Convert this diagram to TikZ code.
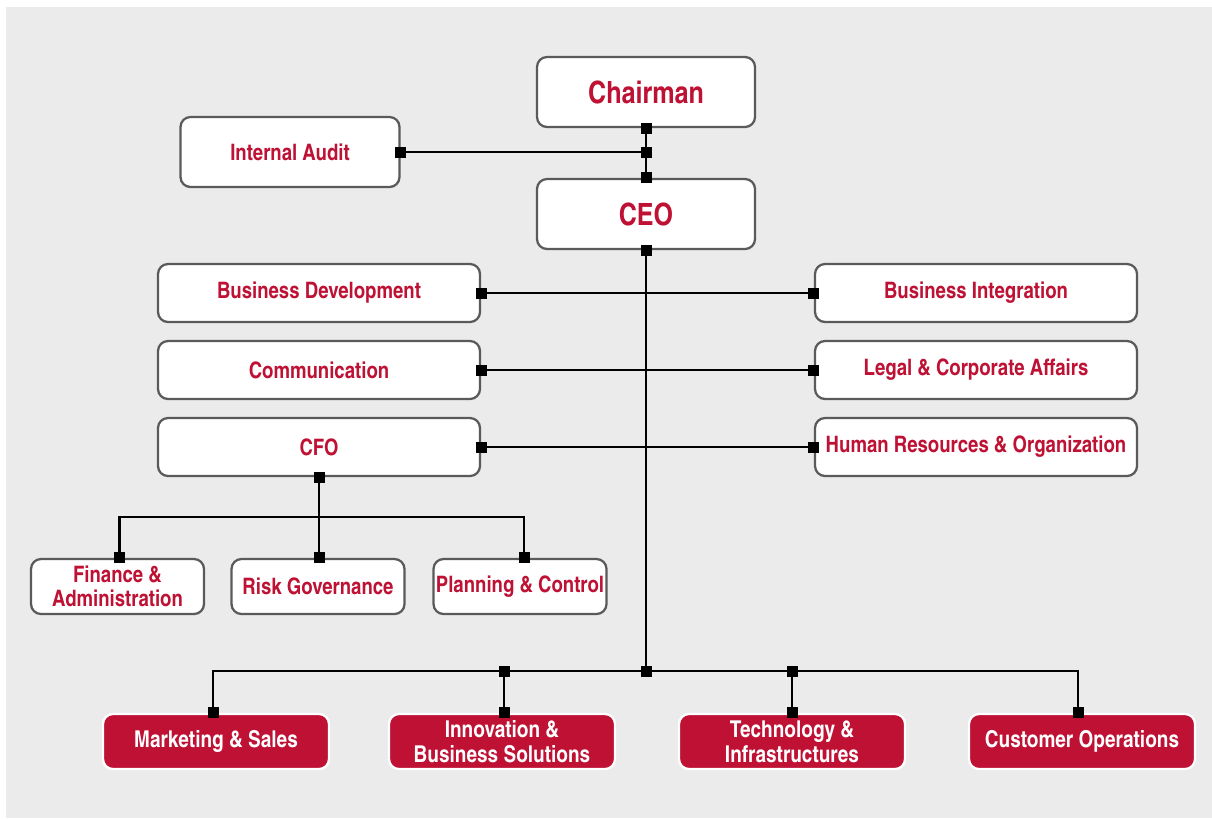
\documentclass[tikz,border=0pt]{standalone}
\usepackage{fontspec}
\setmainfont{texgyreheroscn}[Extension=.otf,UprightFont=*-regular,BoldFont=*-bold,ItalicFont=*-italic,BoldItalicFont=*-bolditalic]
\definecolor{brand}{HTML}{BE1134}
\definecolor{panel}{HTML}{EBEBEB}
\definecolor{frame}{HTML}{5A5A5A}
% square connection marker, 11 units wide, centred on a point
\newcommand\sqmark[1]{\fill[black] (#1) ++(-5.5,-5.5) rectangle ++(11,11);}
\begin{document}
\begin{tikzpicture}[x=0.75pt,y=-0.75pt,
  base/.style={rounded corners=7.5pt, line width=1.7pt, align=center, inner sep=0pt,
               font=\bfseries\fontsize{17}{18.5}\selectfont},
  wbox/.style={base, draw=frame, fill=white, text=brand},
  rbox/.style={base, draw=white, fill=brand, text=white,
               font=\bfseries\fontsize{17.4}{18.5}\selectfont},
  headbox/.style={wbox, minimum width=163.5pt, minimum height=52.5pt,
                  font=\bfseries\fontsize{23}{26}\selectfont},
  staffbox/.style={wbox, minimum width=241.5pt, minimum height=43.5pt},
  subbox/.style={wbox, minimum width=129.75pt, minimum height=41.25pt},
  unitbox/.style={rbox, minimum width=169.5pt, minimum height=41.25pt},
  link/.style={line width=2.1pt, draw=black},
]
\useasboundingbox (0,0) rectangle (1212,818);
\fill[panel] (6,7) rectangle (1212,818);

% top level
\node[headbox] (chair) at (646,92) {Chairman};
\node[headbox] (ceo) at (646,214) {CEO};
\node[wbox, minimum width=164.25pt, minimum height=52.5pt] (audit) at (290,152) {Internal Audit};

% staff functions
\node[staffbox] (bdev) at (319,293) {Business Development};
\node[staffbox] (comm) at (319,370) {Communication};
\node[staffbox] (cfo)  at (319,447) {CFO};
\node[staffbox] (bint) at (976,293) {Business Integration};
\node[staffbox] (legal) at (976,370) {Legal \& Corporate Affairs};
\node[staffbox] (hr)   at (976,447) {Human Resources \& Organization};

% CFO areas
\node[subbox] (fin)  at (117.5,586.5) {Finance \&\\Administration};
\node[subbox] (risk) at (318,586.5) {Risk Governance};
\node[subbox] (plan) at (520,586.5) {Planning \& Control};

% business units
\node[unitbox] (mkt)   at (216,741.5) {Marketing \& Sales};
\node[unitbox] (innov) at (502,741.5) {Innovation \&\\Business Solutions};
\node[unitbox] (tech)  at (792,741.5) {Technology \&\\Infrastructures};
\node[unitbox] (cust)  at (1082,741.5) {Customer Operations};

% connectors: chairman, audit, CEO
\coordinate (iaj) at (chair.south |- audit.east);
\draw[link] (chair.south) -- (ceo.north);
\draw[link] (audit.east) -- (iaj);

% CEO spine and staff rows
\coordinate (bus) at (ceo.south |- 0,671);
\draw[link] (ceo.south) -- (bus);
\draw[link] (bdev.east) -- (bint.west);
\draw[link] (comm.east) -- (legal.west);
\draw[link] (cfo.east) -- (hr.west);

% CFO branch
\coordinate (finTop) at ([xshift=1.5pt]fin.north);
\coordinate (riskTop) at ([xshift=0.75pt]risk.north);
\coordinate (planTop) at ([xshift=3pt]plan.north);
\coordinate (cfobus) at (cfo.south |- 0,517);
\draw[link] (cfo.south) -- (riskTop);
\draw[link] (finTop) -- (finTop |- cfobus) -- (planTop |- cfobus) -- (planTop);

% business unit branch
\coordinate (mktTop) at ([xshift=-2.25pt]mkt.north);
\coordinate (innovTop) at ([xshift=1.5pt]innov.north);
\coordinate (techTop) at (tech.north);
\coordinate (custTop) at ([xshift=-3pt]cust.north);
\draw[link] (mktTop) -- (mktTop |- bus) -- (custTop |- bus) -- (custTop);
\draw[link] (innovTop) -- (innovTop |- bus);
\draw[link] (techTop) -- (techTop |- bus);

% markers
\sqmark{chair.south}
\sqmark{ceo.north}
\sqmark{audit.east}
\sqmark{iaj}
\sqmark{ceo.south}
\sqmark{bdev.east}
\sqmark{bint.west}
\sqmark{comm.east}
\sqmark{legal.west}
\sqmark{cfo.east}
\sqmark{hr.west}
\sqmark{cfo.south}
\sqmark{finTop}
\sqmark{riskTop}
\sqmark{planTop}
\sqmark{bus}
\sqmark{innovTop |- bus}
\sqmark{techTop |- bus}
\sqmark{mktTop}
\sqmark{innovTop}
\sqmark{techTop}
\sqmark{custTop}
\end{tikzpicture}
\end{document}
